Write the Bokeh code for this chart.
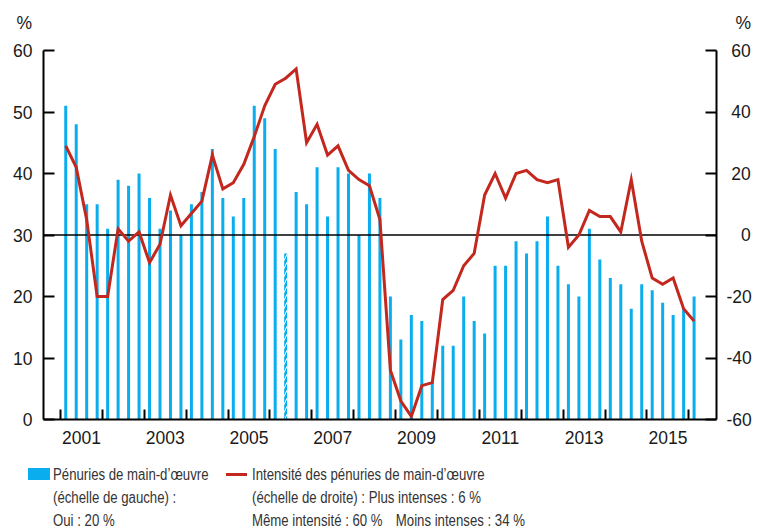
from bokeh.plotting import figure
from bokeh.models import Range1d, LinearAxis, FixedTicker, Div
from bokeh.layouts import column
from bokeh.embed import file_html
from bokeh.resources import INLINE

# ---------------- data ----------------
start_year = 2001          # first quarter shown: 2001 T1, last: 2016 T1
# Labour shortages, share of firms reporting "yes" (%), left scale
shortage_pct = [51, 48, 35, 35, 31, 39, 38, 40, 36, 31, 34, 30, 35, 37, 44,
                36, 33, 36, 51, 49, 44, 27, 37, 35, 41, 33, 41, 40, 30, 40,
                36, 20, 13, 17, 16, 6, 12, 12, 20, 16, 14, 25, 25, 29, 27,
                29, 33, 25, 22, 20, 31, 26, 23, 22, 18, 22, 21, 19, 17, 18, 20]
# Intensity of labour shortages, balance of opinion (%), right scale
intensity_balance = [29, 22, 5, -20, -20, 2, -2, 1, -9, -3, 13, 3, 7, 11, 26,
                     15, 17, 23, 32, 42, 49, 51, 54, 30, 36, 26, 29, 21, 18, 16,
                     5, -44, -54, -59, -49, -48, -21, -18, -10, -6, 13, 20, 12, 20, 21,
                     18, 17, 18, -4, 0, 8, 6, 6, 1, 18, -2, -14, -16, -14, -24, -28]
hatched_quarters = [21]    # 2006 T2 bar drawn hatched
year_labels = ["2001", "2003", "2005", "2007", "2009", "2011", "2013", "2015"]
year_bounds = list(range(2001, 2017))
left_ticks = [0, 10, 20, 30, 40, 50, 60]
right_ticks = [-60, -40, -20, 0, 20, 40, 60]
unit_label = "%"

legend_left = ["Pénuries de main-d’œuvre", "(échelle de gauche) :", "Oui : 20 %"]
legend_right = ["Intensité des pénuries de main-d’œuvre",
                "(échelle de droite) : Plus intenses : 6 %",
                "Même intensité : 60 %\u2003Moins intenses : 34 %"]

# ---------------- styling ----------------
BLUE = "#0AAEEE"
RED = "#C3281F"
TXT = "#1a1a1a"
FONT = "Liberation Sans"
TICK_FS = "17.5px"
PAGE_W = 763

X0, X1 = 2000.594, 2016.66
FW, FH = 673, 369
ML = 43
TOP_H = 38

n = len(shortage_pct)
xq = [start_year + 0.125 + 0.25 * i for i in range(n)]
plain = [i for i in range(n) if i not in hatched_quarters]

# ---------------- header with the unit labels ----------------
hdr_style = ("position:absolute;top:13px;line-height:20px;font-family:'%s';"
             "font-size:%s;color:%s;" % (FONT, TICK_FS, TXT))
header = Div(text=(
    "<div style='position:relative;width:%dpx;height:%dpx;'>" % (PAGE_W, TOP_H)
    + "<span style=\"%sright:%dpx;\">%s</span>" % (hdr_style, PAGE_W - 32, unit_label)
    + "<span style=\"%sright:%dpx;\">%s</span>" % (hdr_style, PAGE_W - 751, unit_label)
    + "</div>"), width=PAGE_W, height=TOP_H, margin=0)

# ---------------- main chart ----------------
p = figure(frame_width=FW, frame_height=FH, x_range=Range1d(X0, X1), y_range=Range1d(0, 60),
           output_backend="svg", toolbar_location=None,
           min_border_left=ML, min_border_right=45, min_border_top=50 - TOP_H, min_border_bottom=33,
           outline_line_color=None, background_fill_color="white", border_fill_color="white",
           margin=0)
p.extra_y_ranges = {"right": Range1d(-60, 60)}
p.grid.grid_line_color = None

bw = 3.0 * (X1 - X0) / FW
p.vbar(x=[xq[i] for i in plain], top=[shortage_pct[i] for i in plain], bottom=0,
       width=bw, fill_color=BLUE, line_color=None)
p.vbar(x=[xq[i] for i in hatched_quarters], top=[shortage_pct[i] for i in hatched_quarters], bottom=0,
       width=bw, fill_color=BLUE, line_color=None,
       hatch_pattern="/", hatch_color="white", hatch_scale=8, hatch_weight=1)

# zero line of the right scale
p.line(x=[X0, X1], y=[0, 0], y_range_name="right", line_color="black", line_width=1.5)

p.line(x=xq, y=intensity_balance, y_range_name="right", line_color=RED, line_width=3,
       line_join="miter")

# x axis: year boundaries as ticks, labels centred on every other year
xa = p.xaxis[0]
xa.ticker = FixedTicker(ticks=[int(y) + 0.5 for y in year_labels], minor_ticks=year_bounds)
xa.major_label_overrides = {int(y) + 0.5: y for y in year_labels}
xa.major_tick_in = 0
xa.major_tick_out = 0
xa.minor_tick_in = 10
xa.minor_tick_out = 0
xa.minor_tick_line_color = "black"
xa.minor_tick_line_width = 2
xa.axis_line_width = 2
xa.axis_line_color = "black"
xa.major_label_standoff = 11
xa.major_label_text_font = FONT
xa.major_label_text_font_size = TICK_FS
xa.major_label_text_color = TXT

# left axis
ya = p.yaxis[0]
ya.ticker = FixedTicker(ticks=left_ticks)
ya.major_tick_in = 11
ya.major_tick_out = 0
ya.minor_tick_in = 0
ya.minor_tick_out = 0
ya.major_tick_line_width = 2
ya.axis_line_width = 2
ya.major_label_standoff = 11
ya.major_label_text_font = FONT
ya.major_label_text_font_size = TICK_FS
ya.major_label_text_color = TXT

# right axis; labels padded so that they line up on the right
def right_label(t):
    s = str(t)
    if t > 0:
        return "\u2008" + s
    if t == 0:
        return "\u2007\u2008" + s
    return s

ra = LinearAxis(y_range_name="right", ticker=FixedTicker(ticks=right_ticks))
ra.major_tick_in = 11
ra.major_tick_out = 0
ra.minor_tick_in = 0
ra.minor_tick_out = 0
ra.major_tick_line_width = 2
ra.axis_line_width = 2
ra.major_label_standoff = 10
ra.major_label_overrides = {t: right_label(t) for t in right_ticks}
ra.major_label_text_font = FONT
ra.major_label_text_font_size = TICK_FS
ra.major_label_text_color = TXT
p.add_layout(ra, "right")

# ---------------- legend ----------------
LEG_H = 75
row_y = [22, 45, 68]
lt = ("position:absolute;left:%dpx;top:%dpx;white-space:nowrap;line-height:23px;"
      "font-family:'" + FONT + "';font-size:16px;color:#333333;"
      "transform:scaleX(0.825);transform-origin:0 50%%;")
html = "<div style='position:relative;width:%dpx;height:%dpx;'>" % (PAGE_W, LEG_H)
html += ("<div style='position:absolute;left:28px;top:%dpx;width:22px;height:12px;"
         "background:%s;'></div>" % (row_y[0] - 6, BLUE))
html += ("<div style='position:absolute;left:226px;top:%dpx;width:21px;height:3px;"
         "background:%s;'></div>" % (row_y[0] - 1, RED))
for i, t in enumerate(legend_left):
    html += "<div style=\"%s\">%s</div>" % (lt % (53, row_y[i] - 11), t)
for i, t in enumerate(legend_right):
    html += "<div style=\"%s\">%s</div>" % (lt % (252, row_y[i] - 11), t)
html += "</div>"
legend = Div(text=html, width=PAGE_W, height=LEG_H, margin=0)

layout = column(header, p, legend, spacing=0)
open("out.html", "w").write(file_html(layout, INLINE))
